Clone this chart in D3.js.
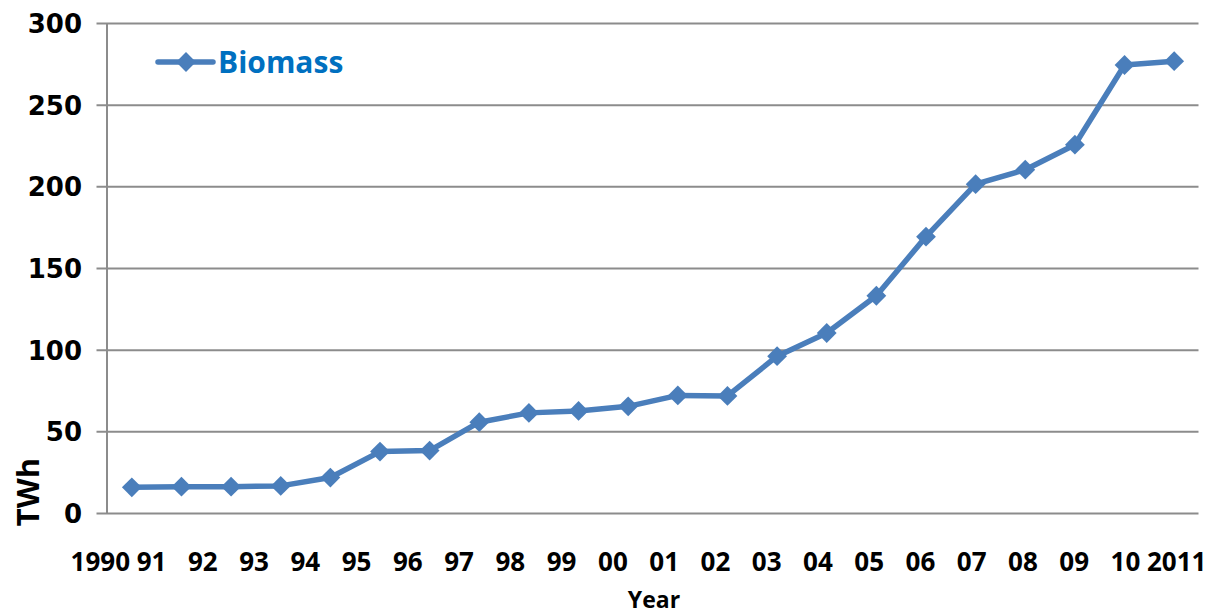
<!DOCTYPE html>
<html>
<head>
<meta charset="utf-8">
<script src="https://cdn.jsdelivr.net/npm/d3@7"></script>
<style>
	html, body { margin: 0; padding: 0; background: #fff; }
	svg { display: block; }
</style>
</head>
<body>
<div id="chart"></div>
<script>
// biomass electricity generation, TWh per year
var years = [1990, 1991, 1992, 1993, 1994, 1995, 1996, 1997, 1998, 1999, 2000,
	2001, 2002, 2003, 2004, 2005, 2006, 2007, 2008, 2009, 2010, 2011];
var biomass = [15.7, 16.1, 16.1, 16.6, 21.7, 37.6, 38.2, 55.6, 61.3, 62.5, 65.3,
	72.0, 71.7, 96.0, 110.2, 133.0, 169.2, 201.3, 210.2, 225.5, 274.3, 276.6];
var yearLabels = ["1990", "91", "92", "93", "94", "95", "96", "97", "98", "99", "00",
	"01", "02", "03", "04", "05", "06", "07", "08", "09", "10", "2011"];
var yTicks = [0, 50, 100, 150, 200, 250, 300];
var seriesName = "Biomass";

(function(){
	'use strict';

	var width = 1224,
		height = 616,
		left = 107,
		right = 1199,
		top = 23,
		bottom = 513,
		blue = "#4a7ebb",
		grid = "#8c8c8c";

	var svg = d3.select("#chart")
		.append("svg")
		.attr("width", width)
		.attr("height", height);

	var x = d3.scalePoint()
		.domain(years)
		.range([left, right])
		.padding(0.5);

	var y = d3.scaleLinear()
		.domain([0, 300])
		.range([bottom, top]);

	// labels were typed a bit off the categories, spread them on their own scale
	var xl = d3.scalePoint()
		.domain(yearLabels)
		.range([x(years[0]) - 32, x(years[years.length - 1]) + 2]);

	// gridlines + y axis
	var yAxis = d3.axisLeft(y)
		.tickValues(yTicks)
		.tickSize(-(right - left + 10))
		.tickPadding(15)
		.tickFormat(d3.format("d"));

	var gy = svg.append("g")
		.attr("transform", "translate(" + (left - 10) + ",0)")
		.call(yAxis);
	gy.select(".domain").remove();
	gy.selectAll(".tick line")
		.attr("stroke", grid)
		.attr("stroke-width", 2)
		.attr("transform", "translate(-0.5,0)");
	gy.selectAll(".tick text")
		.attr("fill", "#000")
		.style("font-family", "'DejaVu Sans', sans-serif")
		.style("font-weight", "bold")
		.style("font-size", "26px")
		.attr("dy", "0.36em");

	svg.append("line")
		.attr("x1", left).attr("x2", left)
		.attr("y1", y(300)).attr("y2", y(0))
		.attr("stroke", grid)
		.attr("stroke-width", 2);

	// x labels
	var xAxis = d3.axisBottom(xl).tickSize(0).tickPadding(0);
	var gx = svg.append("g")
		.attr("transform", "translate(0,551)")
		.call(xAxis);
	gx.select(".domain").remove();
	gx.selectAll(".tick text")
		.attr("fill", "#000")
		.attr("dy", "0.76em")
		.style("font-family", "'Open Sans', sans-serif")
		.style("font-weight", "bold")
		.style("font-size", "26px");

	svg.append("text")
		.attr("x", 654)
		.attr("y", 608)
		.attr("text-anchor", "middle")
		.style("font-family", "'Open Sans', sans-serif")
		.style("font-weight", "bold")
		.style("font-size", "23px")
		.text("Year");

	svg.append("text")
		.attr("transform", "translate(39,492) rotate(-90)")
		.attr("text-anchor", "middle")
		.style("font-family", "'Open Sans', sans-serif")
		.style("font-weight", "bold")
		.style("font-size", "31px")
		.text("TWh");

	// series
	var line = d3.line()
		.x(function(d, i){ return x(years[i]); })
		.y(function(d){ return y(d); });

	svg.append("path")
		.datum(biomass)
		.attr("fill", "none")
		.attr("stroke", blue)
		.attr("stroke-width", 5.5)
		.attr("stroke-linejoin", "round")
		.attr("stroke-linecap", "round")
		.attr("d", line);

	var diamond = d3.symbol().type(d3.symbolDiamond2).size(250);

	svg.selectAll("path.marker")
		.data(biomass)
		.enter().append("path")
		.attr("class", "marker")
		.attr("fill", blue)
		.attr("d", diamond)
		.attr("transform", function(d, i){
			return "translate(" + x(years[i]) + "," + y(d) + ")";
		});

	// legend
	var lg = svg.append("g").attr("transform", "translate(158,62)");
	lg.append("line")
		.attr("x1", 0).attr("x2", 55)
		.attr("stroke", blue)
		.attr("stroke-width", 5.5)
		.attr("stroke-linecap", "round");
	lg.append("path")
		.attr("fill", blue)
		.attr("d", diamond)
		.attr("transform", "translate(28,0)");
	lg.append("text")
		.attr("x", 60)
		.attr("y", 11)
		.attr("fill", "#0070c0")
		.style("font-family", "'Open Sans', sans-serif")
		.style("font-weight", "bold")
		.style("font-size", "30px")
		.text(seriesName);
})();
</script>
</body>
</html>
